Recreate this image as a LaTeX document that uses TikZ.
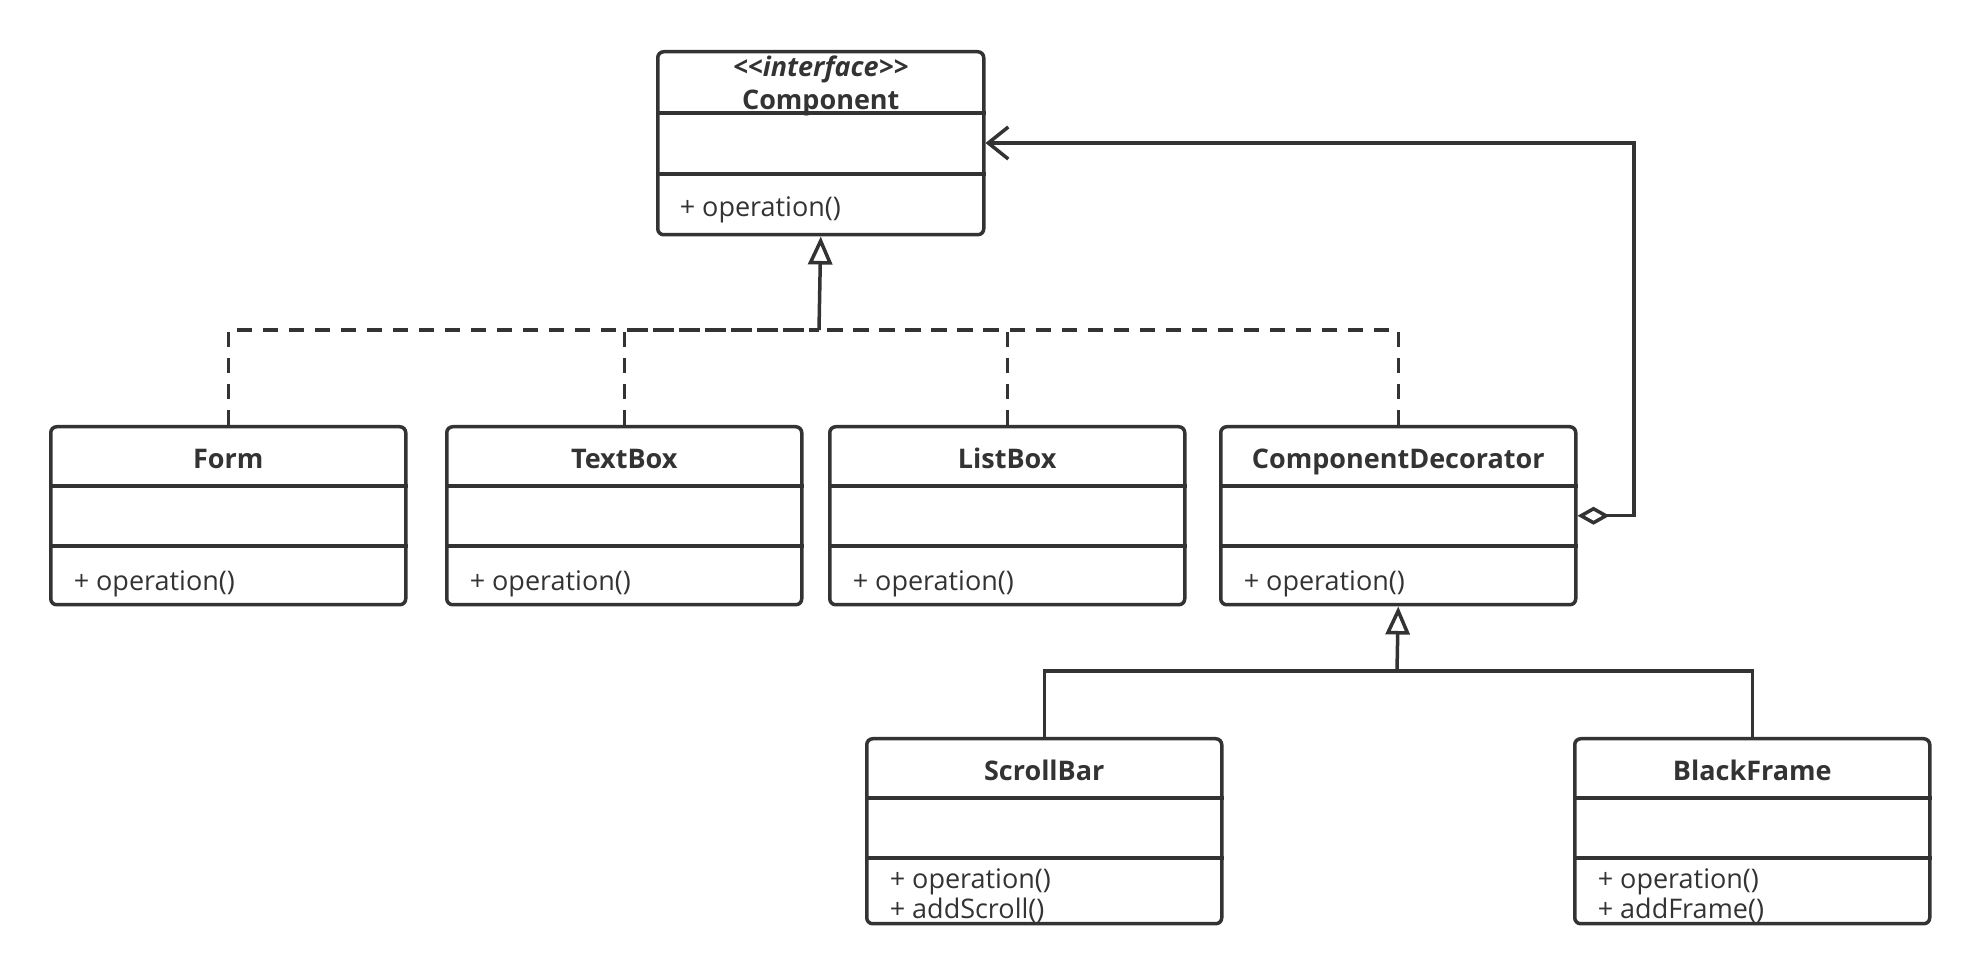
\documentclass[tikz,border=0pt]{standalone}
\usepackage{fontspec}
\setmainfont{Open Sans}
\usepackage{tikz}
\usetikzlibrary{arrows.meta}
\definecolor{umlgray}{HTML}{333333}

\begin{document}
\begin{tikzpicture}
  [x=0.5pt, y=-0.5pt, line width=1.75pt, color=umlgray,
   font=\fontsize{13.5}{15}\selectfont,
   every node/.style={inner sep=0pt},
   classbox/.style={draw, rectangle, rounded corners=3pt, anchor=north west, minimum width=177.5pt, minimum height=89pt},
   classname/.style={anchor=base, font=\fontsize{13.5}{15}\selectfont\bfseries},
   methods/.style={anchor=south west, align=left},
   realize/.style={dash pattern=on 7.5pt off 5.5pt},
   inherit/.style={-{Triangle[open, length=14pt, width=12pt]}},
   aggregate/.style={{Diamond[open, length=16pt, width=9pt]}-{Straight Barb[length=10pt, width=16pt]}}]
  \useasboundingbox (0,0) rectangle (1978,972);

  % the interface
  \node[classbox, minimum width=163pt, minimum height=91.5pt] (comp) at (656,50) {};
  \node[classname] at ([yshift=-13.5pt]comp.north) {\itshape <{}<interface>{}>};
  \node[classname] at ([yshift=-30pt]comp.north) {Component};
  \foreach \s in {31.5pt, 62pt}
    \draw ([yshift=-\s]comp.north west) -- ([yshift=-\s]comp.north east);
  \node[methods] at ([xshift=11pt, yshift=6pt]comp.south west) {+ operation()};

  % the other classes
  \foreach \name/\x/\y/\h/\title/\ops/\oy in {form/49/425/89pt/Form/{+ operation()}/4pt,
      textbox/445/425/89pt/TextBox/{+ operation()}/4pt,
      listbox/828/425/89pt/ListBox/{+ operation()}/4pt,
      cd/1219/425/89pt/ComponentDecorator/{+ operation()}/4pt,
      scroll/865/737/92.5pt/ScrollBar/{+ operation()\\+ addScroll()}/0.5pt,
      black/1573/737/92.5pt/BlackFrame/{+ operation()\\+ addFrame()}/0.5pt}
  {
    \node[classbox, minimum height=\h] (\name) at (\x,\y) {};
    \node[classname] at ([yshift=-22pt]\name.north) {\title};
    \foreach \s in {30.5pt, 60.5pt}
      \draw ([yshift=-\s]\name.north west) -- ([yshift=-\s]\name.north east);
    \node[methods] at ([xshift=11.5pt, yshift=\oy]\name.south west) {\ops};
  }

  \coordinate (impl) at (819,330);
  \coordinate (gen) at (1397,671);
  \coordinate (loop) at (1634,143);

  \foreach \from/\to in {form/impl, textbox/impl, listbox/impl, cd/impl}
    \draw[realize] (\from.north) |- (\to);
  \draw[inherit] (impl) -- (comp.south);

  \foreach \from/\to in {scroll/gen, black/gen}
    \draw (\from.north) |- (\to);
  \draw[inherit] (gen) -- (cd.south);

  \draw[aggregate] (cd.east) -| (loop) -- (loop -| comp.east);
\end{tikzpicture}
\end{document}
